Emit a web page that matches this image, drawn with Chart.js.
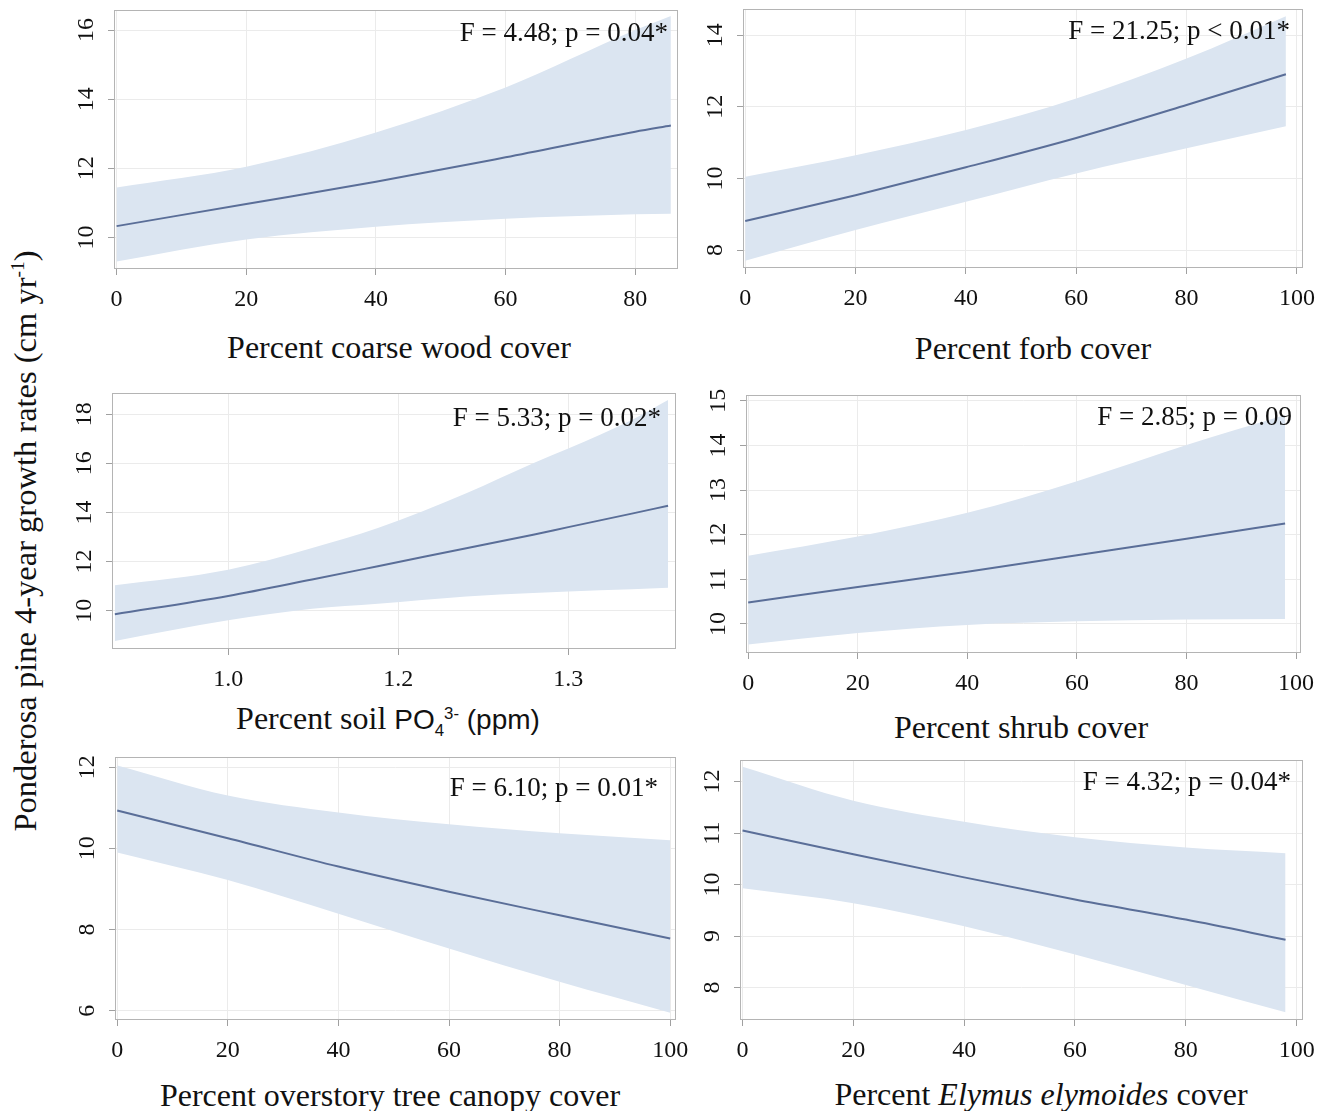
<!DOCTYPE html>
<html>
<head>
<meta charset="utf-8">
<script src="https://cdn.jsdelivr.net/npm/chart.js@4.4.1/dist/chart.umd.min.js"></script>
<style>
  body { margin: 0; background: #fff; width: 1322px; height: 1111px; position: relative; overflow: hidden;
         font-family: 'Liberation Serif', 'Times New Roman', serif; color: #111; }
  canvas { position: absolute; }
  .xt { position: absolute; font-size: 32px; line-height: 1; white-space: nowrap; transform: translate(-50%, -50%); }
  .sans { font-family: 'Liberation Sans', Arial, sans-serif; font-size: 28px; }
  .yt { position: absolute; left: 25px; top: 541px; font-size: 32.5px; line-height: 1; white-space: nowrap;
        transform: translate(-50%, -50%) rotate(-90deg); }
  sup, sub { font-size: 60%; line-height: 0; }
</style>
</head>
<body>
<div class="yt">Ponderosa pine 4-year growth rates (cm yr<sup>-1</sup>)</div>
<div class="xt" style="left:399px;top:347px">Percent coarse wood cover</div>
<div class="xt" style="left:1033px;top:348px">Percent forb cover</div>
<div class="xt" style="left:388px;top:718px">Percent soil <span class="sans">PO<sub>4</sub><sup>3-</sup> (ppm)</span></div>
<div class="xt" style="left:1021px;top:727px">Percent shrub cover</div>
<div class="xt" style="left:390px;top:1095px">Percent overstory tree canopy cover</div>
<div class="xt" style="left:1041px;top:1094px">Percent <i>Elymus elymoides</i> cover</div>
<script>
// coarse wood cover
var woodX = [0, 20, 40, 60, 80, 85.5];
var woodFit = [10.33, 10.97, 11.61, 12.32, 13.06, 13.24];
var woodLo = [9.31, 9.94, 10.31, 10.54, 10.67, 10.69];
var woodHi = [11.45, 12.05, 13.04, 14.34, 16.0, 16.41];

// forb cover
var forbX = [0, 20, 40, 60, 80, 98];
var forbFit = [8.81, 9.53, 10.31, 11.13, 12.05, 12.91];
var forbLo = [7.70, 8.56, 9.35, 10.14, 10.84, 11.46];
var forbHi = [10.05, 10.65, 11.35, 12.23, 13.35, 14.53];

// soil PO4
var po4X = [0.9, 1.0, 1.074, 1.132, 1.21, 1.269, 1.3, 1.356, 1.388];
var po4Fit = [9.85, 10.60, 11.27, 11.81, 12.54, 13.09, 13.40, 13.95, 14.27];
var po4Lo = [8.77, 9.61, 10.08, 10.28, 10.58, 10.72, 10.78, 10.87, 10.93];
var po4Hi = [11.03, 11.67, 12.55, 13.36, 14.78, 16.0, 16.6, 17.76, 18.57];

// shrub cover
var shrubX = [0, 20, 40, 60, 80, 98];
var shrubFit = [10.48, 10.83, 11.17, 11.54, 11.91, 12.25];
var shrubLo = [9.54, 9.80, 9.98, 10.06, 10.10, 10.11];
var shrubHi = [11.53, 11.96, 12.49, 13.20, 14.01, 14.68];

// overstory canopy cover
var canopyX = [0, 20, 40, 60, 80, 100];
var canopyFit = [10.93, 10.25, 9.55, 8.93, 8.35, 7.78];
var canopyLo = [9.90, 9.22, 8.39, 7.53, 6.71, 5.95];
var canopyHi = [12.04, 11.30, 10.88, 10.59, 10.37, 10.20];

// Elymus elymoides cover
var elymusX = [0, 20, 40, 60, 80, 98];
var elymusFit = [11.05, 10.59, 10.14, 9.71, 9.32, 8.93];
var elymusLo = [9.93, 9.64, 9.19, 8.64, 8.05, 7.52];
var elymusHi = [12.29, 11.63, 11.22, 10.92, 10.72, 10.61];

// ticks
var pctTicks = [0, 20, 40, 60, 80, 100];
var woodTicks = [0, 20, 40, 60, 80];
var po4Ticks = [1.0, 1.15, 1.3];
var po4TickLabels = ['1.0', '1.2', '1.3'];
var woodYTicks = [10, 12, 14, 16];
var forbYTicks = [8, 10, 12, 14];
var po4YTicks = [10, 12, 14, 16, 18];
var shrubYTicks = [10, 11, 12, 13, 14, 15];
var canopyYTicks = [6, 8, 10, 12];
var elymusYTicks = [8, 9, 10, 11, 12];

var stats = [
    'F = 4.48; p = 0.04*',
    'F = 21.25; p < 0.01*',
    'F = 5.33; p = 0.02*',
    'F = 2.85; p = 0.09',
    'F = 6.10; p = 0.01*',
    'F = 4.32; p = 0.04*'
];

var bandColor = '#dbe5f1';
var lineColor = '#5a6e98';
var serif = "'Liberation Serif', 'Times New Roman', serif";

var panels = [
    {box: [114, 10, 678, 269], xr: [-0.4, 86.6], yr: [9.09, 16.58], x: woodX, fit: woodFit, lo: woodLo, hi: woodHi, xt: woodTicks, yt: woodYTicks, stat: stats[0], sdx: 10, sdy: 24},
    {box: [743, 9, 1303, 268], xr: [-0.4, 101.1], yr: [7.5, 14.73], x: forbX, fit: forbFit, lo: forbLo, hi: forbHi, xt: pctTicks, yt: forbYTicks, stat: stats[1], sdx: 13, sdy: 23},
    {box: [112, 393, 676, 649], xr: [0.8975, 1.395], yr: [8.44, 18.86], x: po4X, fit: po4Fit, lo: po4Lo, hi: po4Hi, xt: po4Ticks, xl: po4TickLabels, yt: po4YTicks, stat: stats[2], sdx: 15, sdy: 26},
    {box: [746, 395, 1301, 653], xr: [-0.4, 100.9], yr: [9.35, 15.13], x: shrubX, fit: shrubFit, lo: shrubLo, hi: shrubHi, xt: pctTicks, yt: shrubYTicks, stat: stats[3], sdx: 9, sdy: 23},
    {box: [115, 757, 676, 1020], xr: [-0.4, 101.05], yr: [5.77, 12.25], x: canopyX, fit: canopyFit, lo: canopyLo, hi: canopyHi, xt: pctTicks, yt: canopyYTicks, stat: stats[4], sdx: 18, sdy: 32},
    {box: [740, 760, 1303, 1020], xr: [-0.46, 101.15], yr: [7.37, 12.42], x: elymusX, fit: elymusFit, lo: elymusLo, hi: elymusHi, xt: pctTicks, yt: elymusYTicks, stat: stats[5], sdx: 12, sdy: 23}
];

function pts(xs, ys) {
    return xs.map(function (v, i) { return {x: v, y: ys[i]}; });
}

var boxPlugin = {
    id: 'panelBox',
    afterDatasetsDraw: function (chart, args, opts) {
        var a = chart.chartArea;
        var ctx = chart.ctx;
        ctx.save();
        ctx.strokeStyle = '#b4b4b4';
        ctx.lineWidth = 1;
        ctx.strokeRect(a.left + 0.5, a.top + 0.5, a.right - a.left - 1, a.bottom - a.top - 1);
        ctx.fillStyle = '#111';
        ctx.font = '27px ' + serif;
        ctx.textAlign = 'right';
        ctx.textBaseline = 'middle';
        ctx.fillText(opts.text, a.right - opts.dx, a.top + opts.dy);
        ctx.restore();
    }
};

function makePanel(p) {
    var yW = 50, xH = 54, padT = 16, padR = 24;
    var w = p.box[2] - p.box[0] + yW + padR;
    var h = p.box[3] - p.box[1] + padT + xH;
    var cv = document.createElement('canvas');
    cv.width = w;
    cv.height = h;
    cv.style.left = (p.box[0] - yW) + 'px';
    cv.style.top = (p.box[1] - padT) + 'px';
    cv.style.width = w + 'px';
    cv.style.height = h + 'px';
    document.body.appendChild(cv);

    var ctx = cv.getContext('2d');

    // dataset 0 is drawn last, so the fitted line goes first
    var data = {
        datasets: [
            {data: pts(p.x, p.fit), fill: false, borderColor: lineColor, borderWidth: 2, pointRadius: 0, cubicInterpolationMode: 'monotone'},
            {data: pts(p.x, p.hi), fill: '+1', backgroundColor: bandColor, borderColor: 'rgba(0,0,0,0)', borderWidth: 1, pointRadius: 0, cubicInterpolationMode: 'monotone'},
            {data: pts(p.x, p.lo), fill: false, borderColor: 'rgba(0,0,0,0)', borderWidth: 1, pointRadius: 0, cubicInterpolationMode: 'monotone'}
        ]
    };

    var options = {
        responsive: false,
        animation: false,
        devicePixelRatio: 1,
        layout: {padding: {top: padT, right: padR, left: 0, bottom: 0}},
        plugins: {
            legend: {display: false},
            tooltip: {enabled: false},
            panelBox: {text: p.stat, dx: p.sdx, dy: p.sdy}
        },
        scales: {
            x: {
                type: 'linear',
                min: p.xr[0],
                max: p.xr[1],
                afterBuildTicks: function (s) { s.ticks = p.xt.map(function (v) { return {value: v}; }); },
                afterFit: function (s) { s.height = xH; s.paddingLeft = 0; s.paddingRight = 0; },
                ticks: {
                    maxRotation: 0,
                    padding: 10,
                    color: '#111',
                    font: {family: serif, size: 24},
                    callback: function (v, i) { return p.xl ? p.xl[i] : String(v); }
                },
                grid: {color: '#ebebeb', tickColor: '#a0a0a0', tickLength: 6},
                border: {display: false}
            },
            y: {
                type: 'linear',
                min: p.yr[0],
                max: p.yr[1],
                afterBuildTicks: function (s) { s.ticks = p.yt.map(function (v) { return {value: v}; }); },
                afterFit: function (s) { s.width = yW; s.paddingTop = 0; s.paddingBottom = 0; },
                ticks: {
                    minRotation: 90,
                    maxRotation: 90,
                    crossAlign: 'center',
                    padding: 9,
                    color: '#111',
                    font: {family: serif, size: 24},
                    callback: function (v) { return String(v); }
                },
                grid: {color: '#ebebeb', tickColor: '#a0a0a0', tickLength: 6},
                border: {display: false}
            }
        }
    };

    return new Chart(ctx, {type: 'line', data: data, options: options, plugins: [boxPlugin]});
}

panels.forEach(makePanel);
</script>
</body>
</html>
